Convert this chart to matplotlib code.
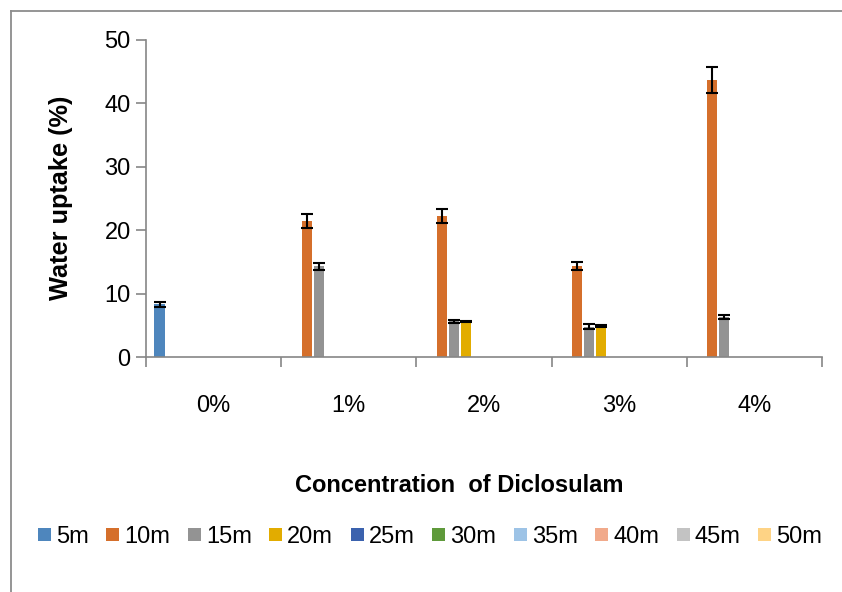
import matplotlib.pyplot as plt
import numpy as np
from matplotlib.lines import Line2D

plt.rcParams['font.family'] = ['Liberation Sans', 'DejaVu Sans']

categories = ['0%', '1%', '2%', '3%', '4%']
series = ['5m', '10m', '15m', '20m', '25m', '30m', '35m', '40m', '45m', '50m']
colors = ['#4E86BD', '#D56F2B', '#939393', '#E2AC00', '#3B62AE',
          '#5F9A3B', '#9DC3E6', '#F1AA8B', '#C3C3C3', '#FED385']
nan = np.nan
values = [
    [8.3, nan, nan, nan, nan],
    [nan, 21.5, 22.2, 14.3, 43.7],
    [nan, 14.3, 5.6, 4.8, 6.3],
    [nan, nan, 5.6, 4.9, nan],
    [nan] * 5,
    [nan] * 5,
    [nan] * 5,
    [nan] * 5,
    [nan] * 5,
    [nan] * 5,
]
errors = [
    [0.4, nan, nan, nan, nan],
    [nan, 1.1, 1.1, 0.65, 2.05],
    [nan, 0.55, 0.25, 0.35, 0.35],
    [nan, nan, 0.1, 0.1, nan],
    [nan] * 5,
    [nan] * 5,
    [nan] * 5,
    [nan] * 5,
    [nan] * 5,
    [nan] * 5,
]

fig = plt.figure(figsize=(8.42, 5.92), dpi=100)
# chart-area border: only top and left edges are inside the image
bx, by = 10.5 / 842, 1 - 11 / 592
fig.lines.append(Line2D([bx, 1.0], [by, by], transform=fig.transFigure,
                        color='#8C8C8C', linewidth=1.3))
fig.lines.append(Line2D([bx, bx], [0.0, by], transform=fig.transFigure,
                        color='#8C8C8C', linewidth=1.3))

ax = fig.add_axes([146 / 842, 1 - 357 / 592, 676 / 842, 317 / 592])

x = np.arange(len(categories))
slot = 0.0889
gap = 1 - slot * len(series)
for i, name in enumerate(series):
    pos = x - 0.5 + gap / 2 + slot * (i + 0.5)
    v = np.array(values[i], dtype=float)
    ax.bar(pos, np.nan_to_num(v), width=0.075, color=colors[i], label=name)
    ax.errorbar(pos, v, yerr=errors[i], fmt='none', ecolor='black',
                elinewidth=1.5, capsize=4.5, capthick=1.5)

ax.set_xlim(-0.5, 4.5)
ax.set_ylim(0, 50)
ax.set_yticks(range(0, 51, 10))
ax.set_xticks(x)
ax.set_xticklabels(categories)
ax.set_xticks(np.arange(-0.5, 5, 1), minor=True)
ax.tick_params(axis='x', which='major', length=0, pad=27, labelsize=17)
ax.tick_params(axis='x', which='minor', length=7, width=1.2, color='#868686')
ax.tick_params(axis='y', length=7, width=1.2, color='#868686', labelsize=17, pad=4)
for s in ['top', 'right']:
    ax.spines[s].set_visible(False)
for s in ['left', 'bottom']:
    ax.spines[s].set_color('#868686')
    ax.spines[s].set_linewidth(1.2)

fig.text(61 / 842, 1 - 198 / 592, 'Water uptake (%)', rotation=90,
         ha='center', va='center', fontsize=18.3, fontweight='bold')
fig.text(459 / 842, 1 - 486 / 592, 'Concentration  of Diclosulam',
         ha='center', va='center', fontsize=17, fontweight='bold')

fig.legend(loc='center', bbox_to_anchor=(430 / 842, 1 - 537 / 592), ncol=10,
           frameon=False, fontsize=17, handlelength=0.55, handleheight=0.5,
           handletextpad=0.22, columnspacing=0.74, borderaxespad=0)

fig.savefig('out.png', dpi=100)
